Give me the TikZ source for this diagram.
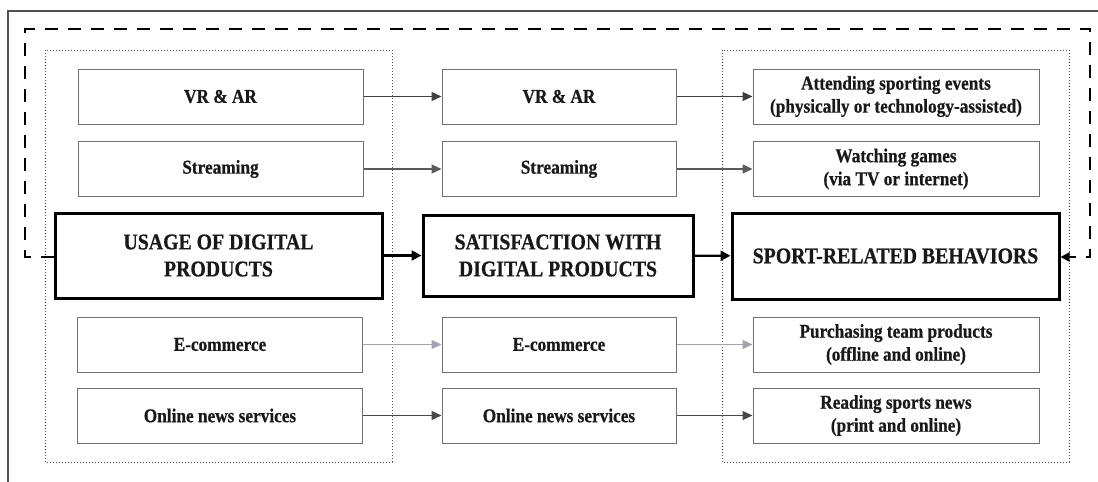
\documentclass[tikz,border=0pt]{standalone}
\usepackage{fontspec}
\setmainfont{Liberation Serif}
\newfontfamily\condserif[FakeStretch=0.88, BoldFeatures={FakeBold=0.6}]{Liberation Serif}
\usetikzlibrary{arrows.meta}
\definecolor{boxgray}{HTML}{707070}
\definecolor{framegray}{HTML}{505050}
\definecolor{arrA}{HTML}{404040}
\definecolor{arrB}{HTML}{5A5A5A}
\definecolor{arrC}{HTML}{A0A4AA}
\definecolor{arrD}{HTML}{484848}
\begin{document}
\begin{tikzpicture}[x=1pt,y=-1pt,
  smallbox/.style={draw=boxgray, line width=1pt, minimum height=55pt, inner sep=0pt,
    align=center, font=\condserif\fontsize{19.6}{23}\selectfont\bfseries, text=black!90},
  lcol/.style={smallbox, minimum width=285pt},
  mcol/.style={smallbox, minimum width=234pt},
  rcol/.style={smallbox, minimum width=286pt},
  bigbox/.style={draw=black, line width=3pt, inner sep=0pt, align=center,
    font=\condserif\fontsize{22.5}{27}\selectfont\bfseries, text=black!90},
  container/.style={draw=framegray, line width=1pt, dotted},
  thinarrow/.style={line width=1.3pt, -{Triangle[length=10pt,width=9pt]}},
  bigarrow/.style={draw=black, line width=2.4pt, -{Triangle[length=10pt,width=10pt]}},
  feedback/.style={draw=black, line width=2.5pt, dash pattern=on 13pt off 10pt,
    -{Triangle[length=9pt,width=9pt]}}
]
\useasboundingbox (0,0) rectangle (1098,482);
% outer frame (cropped)
\draw[framegray, line width=1.2pt] (8,482) -- (8,11) -- (1098,11);
% dotted containers
\draw[container] (45,50) rectangle (392,462);
\draw[container] (722,50) rectangle (1069,462);
% left column
\node[lcol] (l1) at (220.5,96.5) {VR \& AR};
\node[lcol] (l2) at (220.5,169) {Streaming};
\node[lcol] (l3) at (220,344.5) {E-commerce};
\node[lcol] (l4) at (220,415.5) {Online news services};
\node[bigbox, minimum width=327pt, minimum height=85pt] (L) at (218.5,255.5) {USAGE OF DIGITAL\\PRODUCTS};
% middle column
\node[mcol] (m1) at (559,96.5) {VR \& AR};
\node[mcol] (m2) at (559,169) {Streaming};
\node[mcol] (m3) at (559,344.5) {E-commerce};
\node[mcol] (m4) at (559,415.5) {Online news services};
\node[bigbox, minimum width=270pt, minimum height=81pt] (M) at (558,255.5) {SATISFACTION WITH\\DIGITAL PRODUCTS};
% right column
\node[rcol] (r1) at (896,96.5) {Attending sporting events\\(physically or technology-assisted)};
\node[rcol] (r2) at (896,169) {Watching games\\(via TV or internet)};
\node[rcol] (r3) at (896,344.5) {Purchasing team products\\(offline and online)};
\node[rcol] (r4) at (896,415.5) {Reading sports news\\(print and online)};
\node[bigbox, minimum width=327pt, minimum height=86pt] (R) at (895.5,256) {SPORT-RELATED BEHAVIORS};
% thin arrows
\draw[thinarrow, arrA] (l1) -- (m1);
\draw[thinarrow, arrA] (m1) -- (r1);
\draw[thinarrow, arrB] (l2) -- (m2);
\draw[thinarrow, arrB] (m2) -- (r2);
\draw[thinarrow, arrC] (l3) -- (m3);
\draw[thinarrow, arrC] (m3) -- (r3);
\draw[thinarrow, arrD] (l4) -- (m4);
\draw[thinarrow, arrD] (m4) -- (r4);
% big arrows
\draw[bigarrow] (L) -- (M);
\draw[bigarrow] (M) -- (R);
% feedback loop
\coordinate (fl) at (25,257);
\coordinate (ft1) at (25,29);
\coordinate (ft2) at (1090,29);
\coordinate (fr) at (1090,257);
\draw[feedback] (L.west |- fl) -- (fl) -- (ft1) -- (ft2) -- (fr) -- (R.east |- fr);
\end{tikzpicture}
\end{document}
